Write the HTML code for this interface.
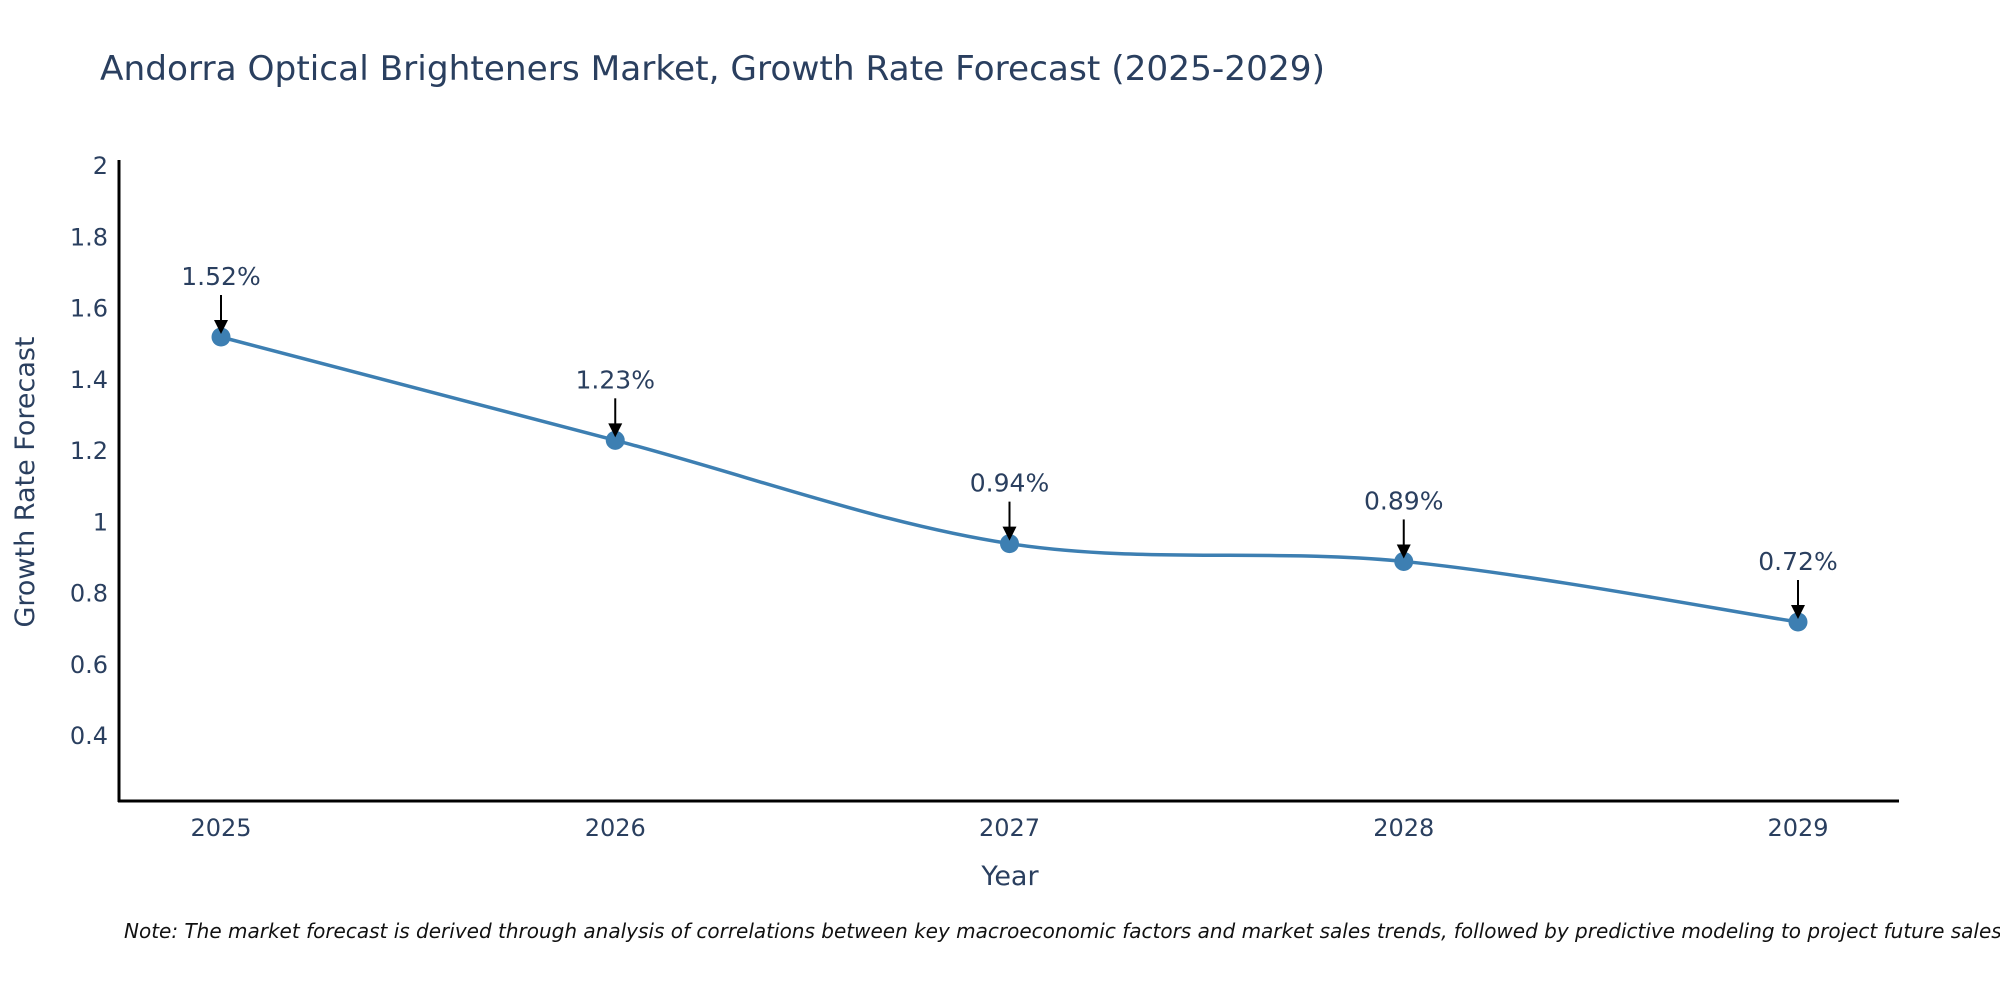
<!DOCTYPE html>
<html><head><meta charset="utf-8"><style>
body{margin:0;background:#fff;width:2000px;height:1000px;overflow:hidden}
svg text{font-family:"DejaVu Sans","Liberation Sans",sans-serif;fill:#2a3f5f}
</style></head><body>
<svg width="2000" height="1000">
<text x="100" y="80" font-size="34" textLength="1225" lengthAdjust="spacingAndGlyphs">Andorra Optical Brighteners Market, Growth Rate Forecast (2025-2029)</text>
<g id="yt"></g>
<g id="xt"></g>
<line x1="119" y1="160" x2="119" y2="802" stroke="#000" stroke-width="3"/>
<line x1="118" y1="801" x2="1899" y2="801" stroke="#000" stroke-width="3"/>
<text transform="translate(34,482) rotate(-90)" text-anchor="middle" font-size="27">Growth Rate Forecast</text>
<text x="1010" y="885" text-anchor="middle" font-size="27">Year</text>
<path id="line" fill="none" stroke="#3d7fb2" stroke-width="3.5"/>
<g id="pts"></g>
<text x="124" y="938" font-size="20" font-style="italic" style="fill:#111">Note: The market forecast is derived through analysis of correlations between key macroeconomic factors and market sales trends, followed by predictive modeling to project future sales.</text>
</svg>
<script>
const years=["2025","2026","2027","2028","2029"];
const values=[1.52,1.23,0.94,0.89,0.72];
const labels=["1.52%","1.23%","0.94%","0.89%","0.72%"];
const yTicks=[0.4,0.6,0.8,1,1.2,1.4,1.6,1.8,2];
const NS="http://www.w3.org/2000/svg";
function X(i){return 221+i*(1798-221)/(years.length-1);}
function Y(v){return 166+(2-v)*(736-166)/1.6;}
function mk(t,a){const e=document.createElementNS(NS,t);for(const k in a)e.setAttribute(k,a[k]);return e;}
const yt=document.getElementById('yt');
yTicks.forEach(v=>{const t=mk('text',{x:108,y:Y(v)+8,'text-anchor':'end','font-size':24});t.textContent=String(v);


yt.appendChild(t);});
const xt=document.getElementById('xt');
years.forEach((y,i)=>{const t=mk('text',{x:X(i),y:836,'text-anchor':'middle','font-size':24});t.textContent=y;


xt.appendChild(t);});
const P=values.map((v,i)=>[X(i),Y(v)]);
let d='M'+P[0][0]+','+P[0][1];
for(let i=0;i<P.length-1;i++){const p0=P[Math.max(0,i-1)],p1=P[i],p2=P[i+1],p3=P[Math.min(P.length-1,i+2)];const s=6;
d+=` C${p1[0]+(p2[0]-p0[0])/s},${p1[1]+(p2[1]-p0[1])/s} ${p2[0]-(p3[0]-p1[0])/s},${p2[1]-(p3[1]-p1[1])/s} ${p2[0]},${p2[1]}`;}
document.getElementById('line').setAttribute('d',d);
const g=document.getElementById('pts');
P.forEach((p,i)=>{
const c=mk('circle',{cx:p[0],cy:p[1],r:9.5,fill:'#3d7fb2'});


g.appendChild(c);
const l=mk('line',{x1:p[0],y1:p[1]-42,x2:p[0],y2:p[1]-14,stroke:'#000','stroke-width':2});


g.appendChild(l);
const h=mk('path',{d:`M${p[0]-7},${p[1]-17} L${p[0]+7},${p[1]-17} L${p[0]},${p[1]-3} Z`,fill:'#000'});


g.appendChild(h);
const t=mk('text',{x:p[0],y:p[1]-52,'text-anchor':'middle','font-size':25});t.textContent=labels[i];


g.appendChild(t);});
</script>
</body></html>
